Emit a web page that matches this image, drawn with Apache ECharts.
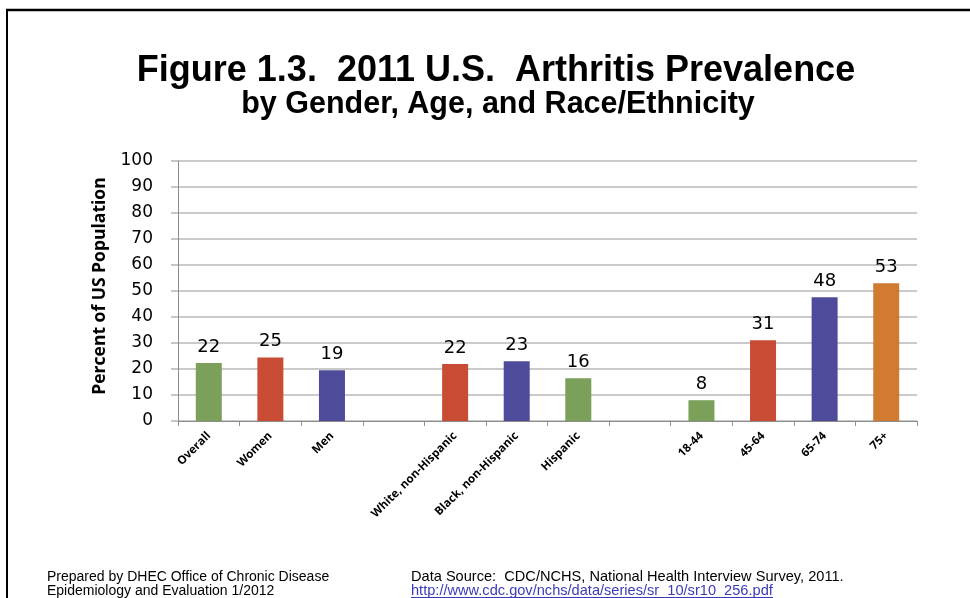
<!DOCTYPE html>
<html>
<head>
<meta charset="utf-8">
<script src="https://cdn.jsdelivr.net/npm/echarts@6/dist/echarts.min.js"></script>
<style>
html,body{margin:0;padding:0;background:#fff;}
#chart{width:970px;height:598px;}
</style>
</head>
<body>
<div id="chart"></div>
<script>
// ---- data ----
const categories = ['Overall', 'Women', 'Men', '', 'White, non-Hispanic', 'Black, non-Hispanic', 'Hispanic', ' ', '18-44', '45-64', '65-74', '75+'];
const values = [22.3, 24.4, 19.5, null, 21.9, 23.0, 16.4, null, 8.0, 31.1, 47.6, 53.0];
const valueLabels = ['22', '25', '19', '', '22', '23', '16', '', '8', '31', '48', '53'];
const barColors = ['#7AA05A', '#C84B34', '#4F4B9B', null, '#C84B34', '#4F4B9B', '#7AA05A', null, '#7AA05A', '#C84B34', '#4F4B9B', '#D07A32'];
const titleText = 'Figure 1.3.  2011 U.S.  Arthritis Prevalence';
const subtitleText = 'by Gender, Age, and Race/Ethnicity';
const yAxisName = 'Percent of US Population';
const footerLeft = ['Prepared by DHEC Office of Chronic Disease', 'Epidemiology and Evaluation 1/2012'];
const footerRight = 'Data Source:  CDC/NCHS, National Health Interview Survey, 2011.';
const footerUrl = 'http://www.cdc.gov/nchs/data/series/sr_10/sr10_256.pdf';

const chart = echarts.init(document.getElementById('chart'), null, {renderer: 'canvas'});

const seriesData = values.map((v, i) => ({
  value: v === null ? '-' : v,
  itemStyle: {color: barColors[i] || '#000'},
  label: {formatter: valueLabels[i]}
}));

const option = {
  backgroundColor: '#ffffff',
  animation: false,
  grid: {left: 178, right: 53, top: 161, bottom: 177, containLabel: false},
  xAxis: {
    type: 'category',
    data: categories,
    boundaryGap: true,
    axisLine: {show: true, lineStyle: {color: '#8c8c8c', width: 1}},
    axisTick: {show: true, interval: 0, length: 5, lineStyle: {color: '#8c8c8c'}},
    axisLabel: {
      interval: 0, rotate: 45, margin: 13,
      fontFamily: 'Open Sans', fontWeight: 'bold', fontSize: 11.5, color: '#000'
    },
    splitLine: {show: false}
  },
  yAxis: {
    type: 'value',
    min: 0, max: 100, interval: 10,
    name: yAxisName,
    nameLocation: 'middle',
    nameRotate: 90,
    nameGap: 69,
    nameTextStyle: {fontFamily: 'Open Sans', fontWeight: 'bold', fontSize: 17.5, color: '#000', padding: [0, 0, 0, 10]},
    axisLine: {show: true, lineStyle: {color: '#8c8c8c', width: 1}},
    axisTick: {show: true, length: 7, lineStyle: {color: '#b4b4b4', width: 1.5}},
    axisLabel: {margin: 25, fontFamily: 'DejaVu Sans', fontSize: 17, color: '#000'},
    splitLine: {show: true, lineStyle: {color: '#b8b8b8', width: 1.5}}
  },
  series: [{
    type: 'bar',
    data: seriesData,
    barWidth: 26,
    label: {
      show: true, position: 'top', distance: 7,
      fontFamily: 'DejaVu Sans', fontSize: 18, color: '#000'
    }
  }],
  graphic: [
    {type: 'line', shape: {x1: 6, y1: 10, x2: 970, y2: 10}, style: {stroke: '#000', lineWidth: 2.5}},
    {type: 'line', shape: {x1: 7, y1: 9, x2: 7, y2: 598}, style: {stroke: '#000', lineWidth: 2}},
    {type: 'text', x: 496, y: 71, style: {text: titleText, textAlign: 'center', textVerticalAlign: 'middle', font: 'bold 36px "Liberation Sans", Arial, sans-serif', fill: '#000'}},
    {type: 'text', x: 498, y: 105, style: {text: subtitleText, textAlign: 'center', textVerticalAlign: 'middle', font: 'bold 30.5px "Liberation Sans", Arial, sans-serif', fill: '#000'}},
    {type: 'text', x: 47, y: 577, style: {text: footerLeft[0], textVerticalAlign: 'middle', font: '14px "Liberation Sans", Arial, sans-serif', fill: '#000'}},
    {type: 'text', x: 47, y: 591, style: {text: footerLeft[1], textVerticalAlign: 'middle', font: '14px "Liberation Sans", Arial, sans-serif', fill: '#000'}},
    {type: 'text', x: 411, y: 577, style: {text: footerRight, textVerticalAlign: 'middle', font: '14.6px "Liberation Sans", Arial, sans-serif', fill: '#000'}},
    {type: 'text', x: 411, y: 591, style: {text: footerUrl, textVerticalAlign: 'middle', font: '14.6px "Liberation Sans", Arial, sans-serif', fill: '#3b3bb8'}},
    {type: 'line', shape: {x1: 411, y1: 597.5, x2: 773, y2: 597.5}, style: {stroke: '#3b3bb8', lineWidth: 1}}
  ]
};
chart.setOption(option);
</script>
</body>
</html>
